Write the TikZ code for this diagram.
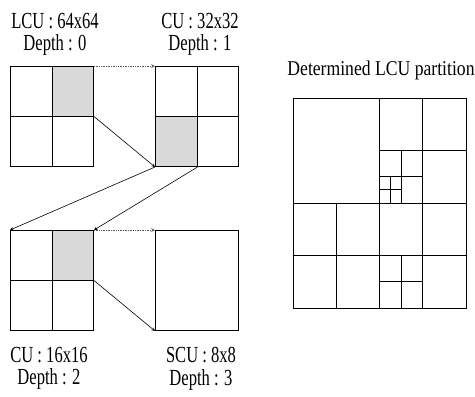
\documentclass[tikz,border=0pt]{standalone}
\usepackage{fontspec}
\setmainfont[FakeStretch=0.72]{Liberation Serif}
\newfontfamily\titlefont[FakeStretch=0.84]{Liberation Serif}
\usetikzlibrary{positioning}

\begin{document}
\begin{tikzpicture}[x=1pt,y=-1pt,
  blk/.style={draw,line width=1pt,minimum width=83pt,minimum height=100pt,inner sep=0pt},
  cell/.style={draw,line width=1pt,fill=gray!30,minimum width=41.5pt,minimum height=50pt,inner sep=0pt},
  lbl/.style={align=center,font=\fontsize{23}{22.5}\selectfont,inner sep=0pt}]
  \useasboundingbox (0,0) rectangle (475,397);

  % the four coding units
  \node[blk,anchor=north west] (lcu) at (10,66) {};
  \node[blk,right=61pt of lcu] (cu32) {};
  \node[blk,below=63pt of lcu] (cu16) {};
  \node[blk,right=61pt of cu16] (scu) {};

  % selected cells
  \node[cell,anchor=north east] (lcu-sel) at (lcu.north east) {};
  \node[cell,anchor=south west] (cu32-sel) at (cu32.south west) {};
  \node[cell,anchor=north east] (cu16-sel) at (cu16.north east) {};

  \draw[line width=1pt]
    (lcu.north) -- (lcu.south) (lcu.west) -- (lcu.east)
    (cu32.north) -- (cu32.south) (cu32.west) -- (cu32.east)
    (cu16.north) -- (cu16.south) (cu16.west) -- (cu16.east);

  \node[lbl,above=10pt of lcu,xshift=3pt] (lcu-lbl) {LCU : 64x64\\Depth : 0};
  \node[lbl,above=10pt of cu32,xshift=3pt] (cu32-lbl) {CU : 32x32\\Depth : 1};
  \node[lbl,below=16pt of cu16,xshift=-3pt] (cu16-lbl) {CU : 16x16\\Depth : 2};
  \node[lbl,below=16pt of scu,xshift=4pt] (scu-lbl) {SCU : 8x8\\Depth : 3};

  \path[-stealth,densely dotted,gray!70!black,line width=0.7pt]
    (lcu.north east) edge (cu32.north west)
    (cu16.north east) edge (scu.north west);
  \path[-stealth,line width=0.6pt]
    (lcu.east) edge (cu32.south west)
    (cu32-sel.south west) edge (cu16.north west)
    (cu32-sel.south east) edge (cu16.north east)
    (cu16.east) edge (scu.south west);

  % determined partition
  \node[blk,minimum width=173pt,minimum height=210pt,anchor=north west] (part) at (293,98) {};
  \node[font=\titlefont\fontsize{21}{21}\selectfont,above=14pt of part,xshift=1pt] (part-lbl) {Determined LCU partition};
  \begin{scope}[shift={(part.north west)},x=43.25pt,y=-52.5pt,line width=1pt]
    \draw (2,0) -- (2,4) (0,2) -- (4,2);
    \draw (3,0) -- (3,2) (2,1) -- (4,1);
    \draw (2.5,1) -- (2.5,2) (2,1.5) -- (3,1.5);
    \draw (2.25,1.5) -- (2.25,2) (2,1.75) -- (2.5,1.75);
    \draw (1,2) -- (1,4) (0,3) -- (2,3);
    \draw (3,2) -- (3,4) (2,3) -- (4,3);
    \draw (2.5,3) -- (2.5,4) (2,3.5) -- (3,3.5);
  \end{scope}
\end{tikzpicture}
\end{document}
